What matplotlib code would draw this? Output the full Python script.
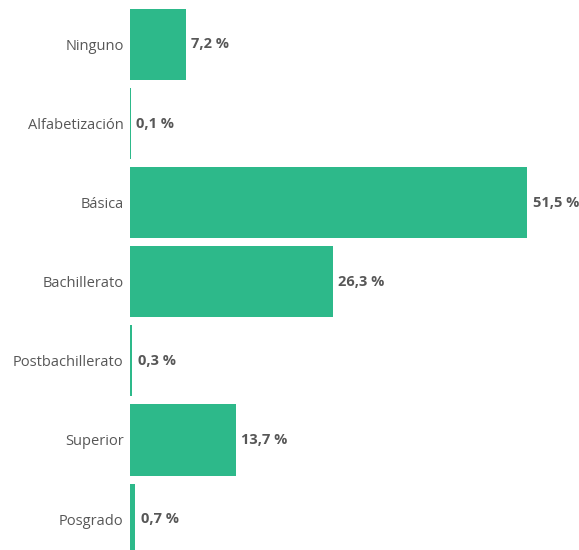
import matplotlib
matplotlib.use("Agg")
import matplotlib.pyplot as plt

categories = ["Ninguno", "Alfabetización", "Básica", "Bachillerato",
              "Postbachillerato", "Superior", "Posgrado"]
values = [7.2, 0.1, 51.5, 26.3, 0.3, 13.7, 0.7]

bar_color = "#2DB98A"
text_color = "#575757"

plt.rcParams["font.family"] = ["Open Sans", "DejaVu Sans"]

W, H = 579, 550
fig = plt.figure(figsize=(W / 100, H / 100), dpi=100)
left_px = 130
ax = fig.add_axes([left_px / W, 0, 1 - left_px / W, 1])

pos = list(range(len(categories)))
ax.barh(pos, values, height=0.9, color=bar_color)

px_per_unit = (527 - 130) / 51.5
ax.set_xlim(0, (W - left_px) / px_per_unit)
spacing = 79.1
ax.set_ylim((H - 44.5) / spacing, -44.5 / spacing)

for p, v in zip(pos, values):
    ax.annotate(f"{v:.1f} %".replace(".", ","), xy=(v, p), xytext=(4.0, 0),
                textcoords="offset points", va="center", ha="left",
                fontsize=10.5, fontweight="bold", color=text_color)

ax.set_yticks(pos)
ax.set_yticklabels(categories, fontsize=10.5, color=text_color)
ax.tick_params(axis="y", length=0, pad=4.5)
ax.set_xticks([])
for s in ax.spines.values():
    s.set_visible(False)

fig.savefig("out.png", dpi=100)
